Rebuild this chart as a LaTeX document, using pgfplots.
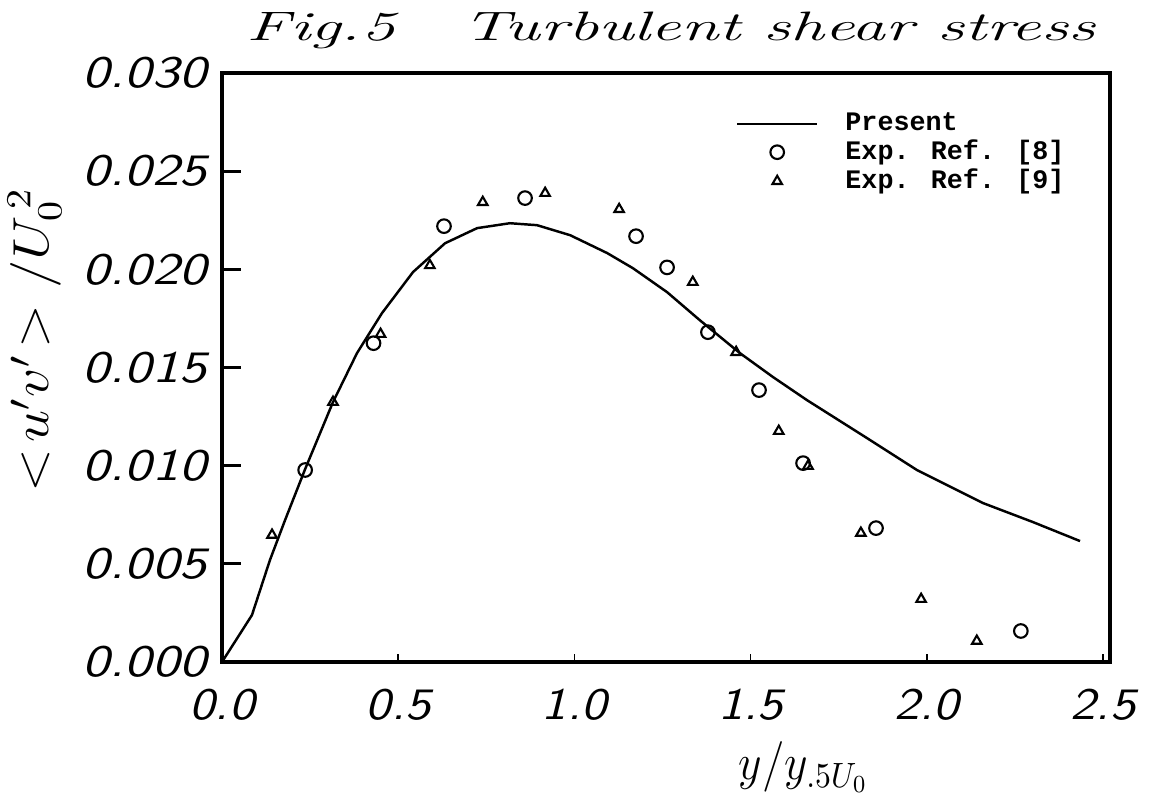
\documentclass[border=0pt]{standalone}
\usepackage{fontspec}
\usepackage{graphicx}
\usepackage{pgfplots}
\pgfplotsset{compat=1.18}
\newfontfamily\legfont{Liberation Mono}

\pgfplotstableread{
x y
0.000 0.00000
0.085 0.00239
0.136 0.00519
0.179 0.00723
0.236 0.00983
0.315 0.01324
0.383 0.01573
0.454 0.01777
0.542 0.01986
0.633 0.02133
0.724 0.02210
0.817 0.02235
0.894 0.02225
0.988 0.02174
1.093 0.02083
1.166 0.02006
1.263 0.01884
1.356 0.01741
1.470 0.01573
1.564 0.01451
1.660 0.01334
1.830 0.01141
1.972 0.00978
2.159 0.00810
2.301 0.00713
2.435 0.00616
}\present

\pgfplotstableread{
x y
0.236 0.00978
0.430 0.01624
0.630 0.02220
0.860 0.02363
1.175 0.02169
1.263 0.02010
1.379 0.01680
1.524 0.01385
1.649 0.01013
1.856 0.00682
2.267 0.00158
}\refeight

\pgfplotstableread{
x y
0.142 0.00647
0.315 0.01324
0.450 0.01670
0.590 0.02020
0.740 0.02342
0.917 0.02388
1.127 0.02306
1.336 0.01935
1.459 0.01578
1.580 0.01176
1.663 0.00998
1.813 0.00657
1.984 0.00320
2.142 0.00107
}\refnine

\begin{document}
\begin{tikzpicture}
\begin{axis}[
  name=ax,
  scale only axis,
  width=88.8mm, height=58.9mm,
  xmin=0, xmax=2.52, ymin=0, ymax=0.030,
  axis line style={line width=1pt},
  tick align=inside, tick pos=left,
  xtick={0,0.5,1.0,1.5,2.0,2.5},
  ytick={0,0.005,0.010,0.015,0.020,0.025,0.030},
  major tick length=1.9mm,
  xtick style={/pgfplots/major tick length=0.8mm, line width=0.5pt, black},
  ytick style={line width=0.8pt, black},
  scaled y ticks=false,
  /pgf/number format/assume math mode=true,
  yticklabel style={/pgf/number format/fixed, /pgf/number format/fixed zerofill, /pgf/number format/precision=3, xshift=-0.3mm},
  xticklabel style={/pgf/number format/fixed, /pgf/number format/fixed zerofill, /pgf/number format/precision=1, yshift=-1.5mm},
  ticklabel style={font=\fontsize{12.8}{14}\selectfont\sffamily\slshape},
  xticklabel={\resizebox{6.5mm}{\height}{\pgfmathprintnumber{\tick}}},
  yticklabel={\resizebox{12.4mm}{\height}{\pgfmathprintnumber{\tick}}},
  every axis title shift=0pt,
  title={\resizebox{84.8mm}{\height}{Fig.5\quad Turbulent shear stress}},
  title style={font=\fontsize{11.7}{13}\selectfont\itshape, at={(axis description cs:0.5,1)}, anchor=base, yshift=3.3mm, xshift=0.5mm},
  ylabel={\resizebox{30.5mm}{\height}{$<\!u'v'\!>/U_0^{\,2}$}},
  ylabel style={font=\fontsize{14.5}{16}\selectfont, at={(axis description cs:-0.211,0.547)}, anchor=center},
  xlabel={\resizebox{13mm}{\height}{$y/y_{.5U_0}$}},
  xlabel style={font=\fontsize{14.5}{16}\selectfont, at={(axis description cs:0.655,-0.2)}, anchor=base},
  legend style={draw=none, fill=none, at={(axis description cs:0.578,0.946)}, anchor=north west,
    font=\fontsize{7.6}{8.5}\selectfont\legfont\bfseries, inner sep=0pt, row sep=-1.0mm, column sep=2mm},
  legend cell align=left,
  legend image code/.code={\draw[mark repeat=2,mark phase=2,#1] plot coordinates {(0mm,0mm) (4mm,0mm) (8mm,0mm)};},
]
\addplot[black, line width=0.7pt, sharp plot] table[x=x,y=y] {\present};
\addlegendentry{Present}
\addplot[only marks, mark=o, mark size=0.68mm, mark options={line width=0.6pt, black}] table[x=x,y=y] {\refeight};
\addlegendentry{Exp. Ref. [8]}
\addplot[only marks, mark=triangle, mark size=0.55mm, mark options={line width=0.6pt, black}] table[x=x,y=y] {\refnine};
\addlegendentry{Exp. Ref. [9]}
\end{axis}
\pgfresetboundingbox
\path (ax.south west) ++(-22.2mm,-14.5mm) rectangle ++(114.9mm,80.7mm);
\end{tikzpicture}
\end{document}
